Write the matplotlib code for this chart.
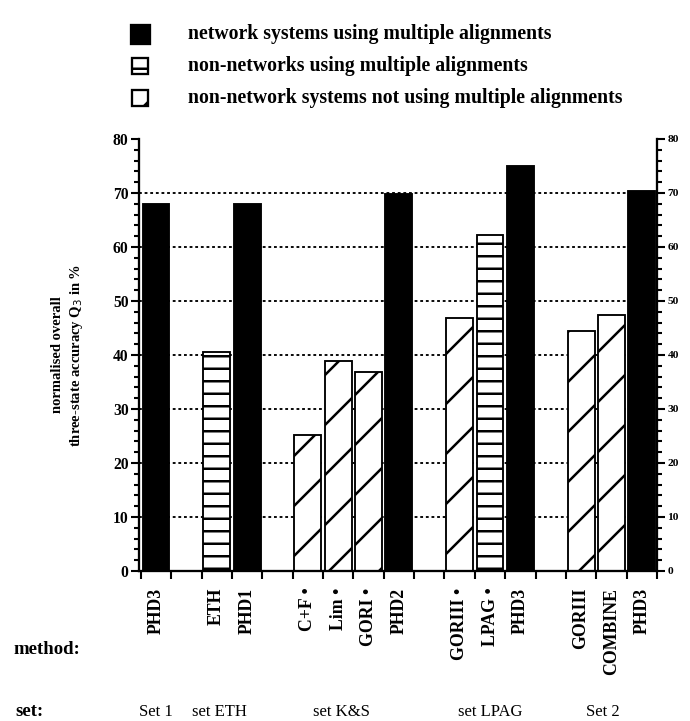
import matplotlib
matplotlib.use("Agg")
import matplotlib.pyplot as plt
from matplotlib.patches import Rectangle
from matplotlib.ticker import MultipleLocator

# Q3 accuracy per method, grouped by test set
SETS = ["Set 1", "set ETH", "set K&S", "set LPAG", "Set 2"]
GROUP_SIZES = [1, 2, 4, 3, 3]
METHODS = ["PHD3", "ETH", "PHD1", "C+F •", "Lim •", "GORI •", "PHD2",
           "GORIII •", "LPAG •", "PHD3", "GORIII", "COMBINE", "PHD3"]
Q3 = [68, 40.5, 68, 25.2, 38.8, 36.9, 69.8, 46.8, 62.2, 75, 44.4, 47.5, 70.4]
# 0 = network + multiple alignments, 1 = non-network + multiple alignments,
# 2 = non-network, single sequence
KIND = [0, 1, 0, 2, 2, 2, 0, 2, 1, 0, 2, 2, 0]
LEGEND = ["network systems using multiple alignments",
          "non-networks using multiple alignments",
          "non-network systems not using multiple alignments"]

DPI = 150
W, H = 690, 721
plt.rcParams["font.family"] = ["Liberation Serif", "DejaVu Serif"]
plt.rcParams["hatch.linewidth"] = 1.2

STYLE = [dict(color="black", edgecolor="black", hatch=None),
         dict(color="white", edgecolor="black", hatch="--"),
         dict(color="white", edgecolor="black", hatch="/")]

# bar slots: one empty slot between groups
pos = []
slot = 0
group_mid = []
for n in GROUP_SIZES:
    group_mid.append(slot + (n - 1) / 2)
    pos.extend(range(slot, slot + n))
    slot += n + 1

fig = plt.figure(figsize=(W / DPI, H / DPI), dpi=DPI)
ax = fig.add_axes([139 / W, 1 - 571 / H, (657 - 139) / W, (571 - 139) / H])

for y in range(10, 80, 10):
    ax.axhline(y, color="black", lw=0.9, ls=(0, (1.5, 1.5)), zorder=1)

for x, v, k in zip(pos, Q3, KIND):
    st = STYLE[k]
    ax.bar(x, v, width=0.885, color=st["color"], edgecolor=st["edgecolor"],
           hatch=st["hatch"], linewidth=0.9, zorder=2)

ax.set_xlim(-0.56, 16.43)
ax.set_ylim(0, 80)
ax.spines["top"].set_visible(False)
for s in ("left", "right", "bottom"):
    ax.spines[s].set_linewidth(1.1)

ax.yaxis.set_major_locator(MultipleLocator(10))
ax.yaxis.set_minor_locator(MultipleLocator(2))
ax.tick_params(axis="y", which="both", left=True, right=True,
               labelleft=True, labelright=True, direction="out", width=1)
ax.tick_params(axis="y", which="major", length=4, pad=1)
ax.tick_params(axis="y", which="minor", length=2.5)
for t in ax.yaxis.get_major_ticks():
    t.label1.set_fontsize(7.5)
    t.label1.set_fontweight("bold")
    t.label2.set_fontsize(5.5)
    t.label2.set_fontweight("bold")

ax.set_xticks([p - 0.5 for p in range(0, 17)] + [16.5])
ax.set_xticklabels([])
ax.tick_params(axis="x", direction="out", length=4, width=1)

ax.set_ylabel("normalised overall\nthree-state accuracy Q$_3$ in %",
              fontsize=7, fontweight="bold", linespacing=1.3)
ax.yaxis.set_label_coords(-0.105, 0.5)

# method names under each bar
for x, m in zip(pos, METHODS):
    ax.annotate(m, (x, 0), xytext=(0, -8), textcoords="offset points",
                rotation=90, ha="center", va="top", fontsize=8.5,
                fontweight="bold")

# set names along the bottom
set_x = [group_mid[0], 2.1, 6.1, group_mid[3], 14.7]
set_y = -(712 - 571) / (571 - 139)
for x, s in zip(set_x, SETS):
    ax.text(x, set_y, s, transform=ax.get_xaxis_transform(), ha="center",
            va="center", fontsize=8)

fig.text(13 / W, 1 - 650 / H, "method:", fontsize=9, fontweight="bold",
         va="center")
fig.text(15 / W, 1 - 712 / H, "set:", fontsize=9, fontweight="bold",
         va="center")

# legend
for i, (lab, st) in enumerate(zip(LEGEND, STYLE)):
    yc = [34, 66, 98][i]
    sz = 19 if i == 0 else 16
    fig.patches.append(Rectangle(((140 - sz / 2) / W, 1 - (yc + sz / 2) / H),
                                 sz / W, sz / H, transform=fig.transFigure,
                                 facecolor=st["color"], edgecolor="black",
                                 hatch=st["hatch"], linewidth=1.1))
    fig.text(188 / W, 1 - yc / H, lab, fontsize=9.5, fontweight="bold",
             va="center")

fig.savefig("out.png", dpi=DPI)
